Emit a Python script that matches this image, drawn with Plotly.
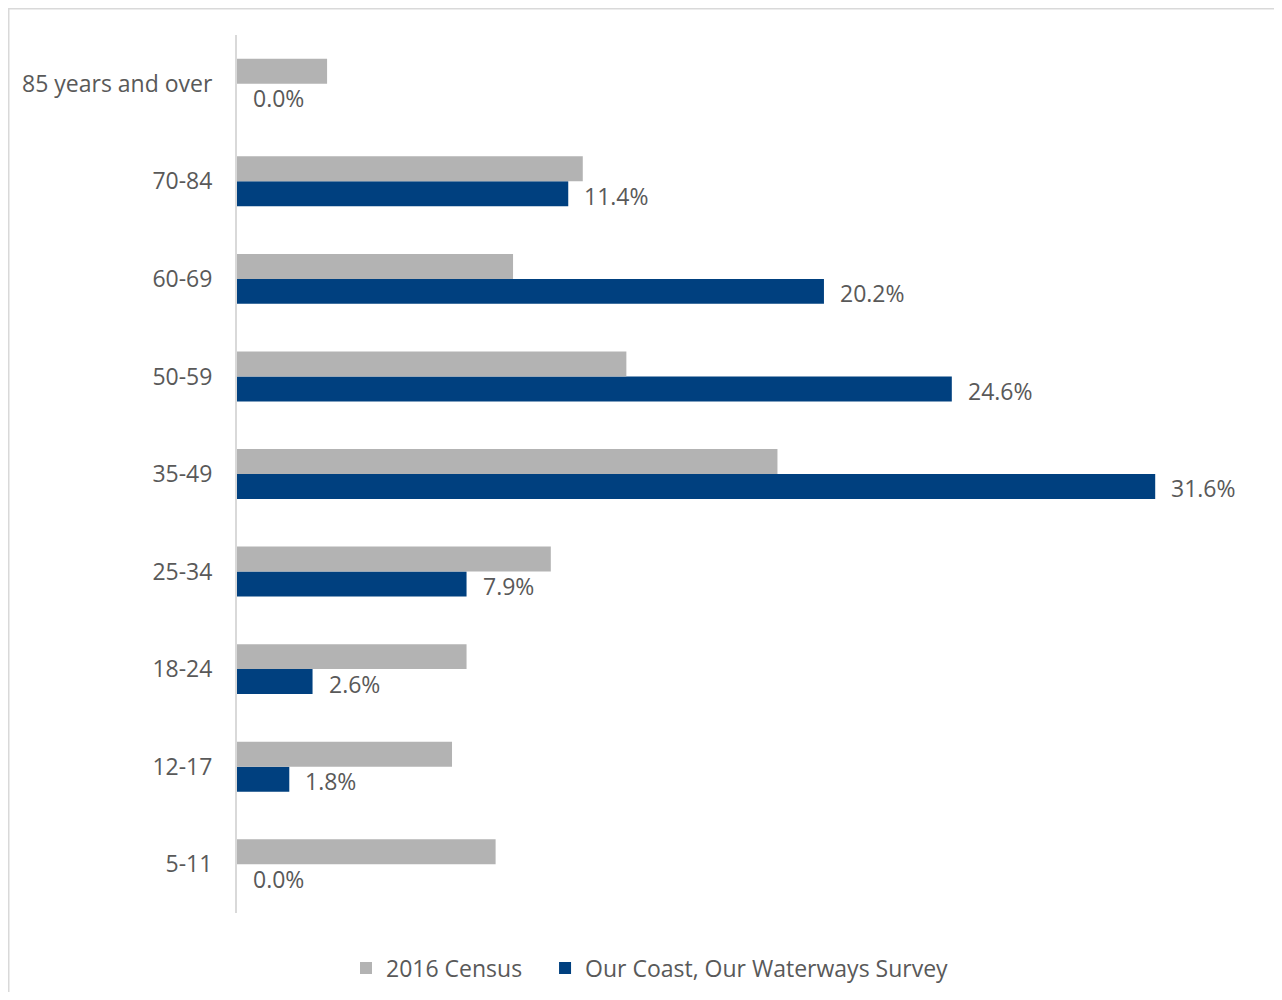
import plotly.graph_objects as go

categories = ["5-11", "12-17", "18-24", "25-34", "35-49", "50-59", "60-69", "70-84", "85 years and over"]
census_2016 = [8.9, 7.4, 7.9, 10.8, 18.6, 13.4, 9.5, 11.9, 3.1]
survey = [0.0, 1.8, 2.6, 7.9, 31.6, 24.6, 20.2, 11.4, 0.0]

GRAY = "#B3B3B3"
BLUE = "#00407F"
TEXT = "#595959"
FONT = "Open Sans"
FS = 23

# figure sits 8px inside the page (body margin)
OFF = 8
W, H = 1266, 984
ML, MT = 237 - OFF, 35 - OFF
MR = W - (1254 - OFF)
MB = H - (913 - OFF)
PW, PH = W - ML - MR, H - MT - MB

fig = go.Figure()
fig.add_trace(go.Bar(
    y=categories, x=survey, orientation="h", name="Our Coast, Our Waterways Survey",
    marker=dict(color=BLUE, line=dict(width=0)), legendrank=2,
))
fig.add_trace(go.Bar(
    y=categories, x=census_2016, orientation="h", name="2016 Census\u00a0\u00a0\u00a0",
    marker=dict(color=GRAY, line=dict(width=0)), legendrank=1,
))

cat_px = PH / len(categories)
bar_px = cat_px * (1 - 0.488) / 2
for c, v in zip(categories, survey):
    fig.add_annotation(
        x=v, y=c, text=f"{v:.1f}%", showarrow=False, xanchor="left", yanchor="middle",
        xshift=14, yshift=-bar_px / 2 - 2, font=dict(family=FONT, size=FS, color=TEXT),
    )

# outer chart border (left & top visible, right/bottom run off the page)
fig.add_shape(
    type="rect", xref="paper", yref="paper",
    x0=(0 - ML + 0.5) / PW, x1=(W + 20 - ML) / PW,
    y0=-(MB + 20) / PH, y1=1 + (MT - 0.5) / PH,
    line=dict(color="#D9D9D9", width=2), fillcolor="rgba(0,0,0,0)", layer="below",
)

fig.update_layout(
    width=W, height=H, autosize=False,
    margin=dict(l=ML, r=MR, t=MT, b=MB, autoexpand=False),
    paper_bgcolor="white", plot_bgcolor="white",
    barmode="group", bargap=0.488, bargroupgap=0,
    font=dict(family=FONT, size=FS, color=TEXT),
    showlegend=True,
    legend=dict(
        orientation="h", xref="container", yref="container",
        x=(650 - OFF) / W, xanchor="center",
        y=1 - (968 - OFF) / H, yanchor="middle",
        font=dict(family=FONT, size=FS, color=TEXT), itemwidth=30,
        traceorder="normal",
    ),
    xaxis=dict(range=[0, 35], visible=False, showgrid=False, zeroline=False),
    yaxis=dict(
        type="category", categoryorder="array", categoryarray=categories,
        showline=True, linecolor="#D9D9D9", linewidth=2, showgrid=False,
        ticks="", ticklabelstandoff=18, tickfont=dict(family=FONT, size=FS, color=TEXT),
    ),
)

fig.write_html("out.html")
